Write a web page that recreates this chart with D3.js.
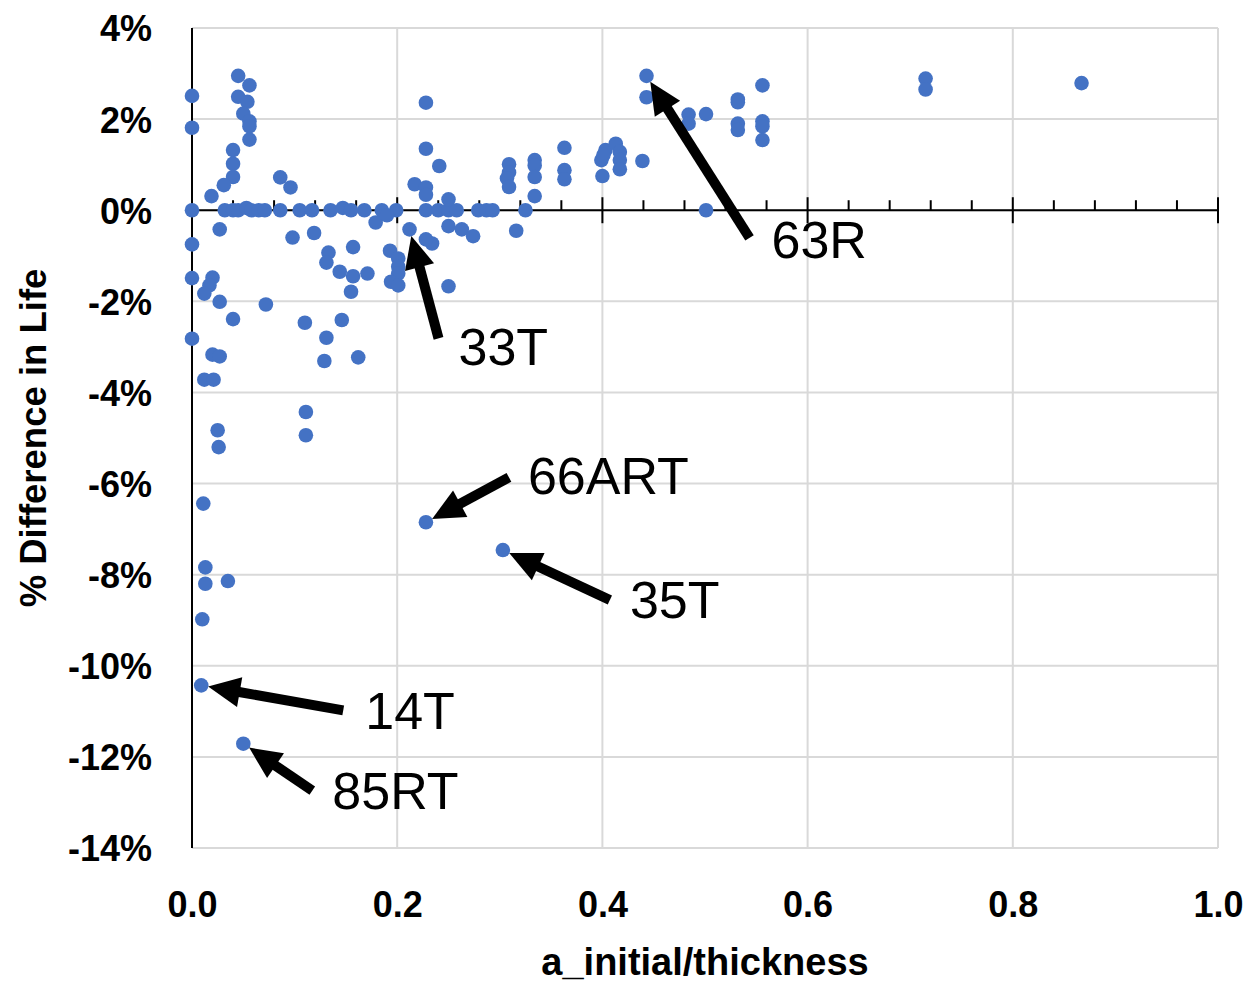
<!DOCTYPE html>
<html>
<head>
<meta charset="utf-8">
<script src="https://cdn.jsdelivr.net/npm/d3@7"></script>
<style>
    body { margin: 0; background: #fff; }
    svg { display: block; font-family: "Liberation Sans", Arial, sans-serif; }
</style>
</head>
<body>
<div id="chart"></div>
<script>
// a_initial/thickness for each specimen
const ratio = [
    0.000, 0.000, 0.000, 0.000, 0.000, 0.000,
    0.045, 0.056, 0.045, 0.054, 0.050, 0.056, 0.056, 0.056, 0.040, 0.040, 0.040, 0.031, 0.019, 0.086, 0.096,
    0.032, 0.040, 0.045, 0.053, 0.058, 0.065, 0.071, 0.086, 0.105, 0.117, 0.135, 0.147, 0.155, 0.168, 0.185,
    0.199, 0.228, 0.240, 0.250, 0.258, 0.279, 0.287, 0.293, 0.325, 0.501,
    0.027, 0.098, 0.119, 0.020, 0.017, 0.012, 0.027, 0.072, 0.040, 0.110, 0.020, 0.027, 0.012, 0.021,
    0.228, 0.228, 0.241, 0.217, 0.228, 0.228, 0.179, 0.190, 0.212, 0.250, 0.250, 0.263, 0.274,
    0.133, 0.157, 0.131, 0.144, 0.157, 0.171, 0.155, 0.193, 0.201, 0.201, 0.201, 0.194, 0.201, 0.250,
    0.234, 0.228, 0.146, 0.131, 0.129, 0.162, 0.111, 0.111, 0.025, 0.026, 0.011,
    0.013, 0.013, 0.035, 0.010, 0.009, 0.050, 0.228, 0.303,
    0.443, 0.443, 0.363, 0.363, 0.363, 0.334, 0.334, 0.334, 0.334, 0.309, 0.309, 0.307, 0.309,
    0.403, 0.413, 0.417, 0.399, 0.401, 0.417, 0.417, 0.400, 0.439,
    0.484, 0.484, 0.501, 0.532, 0.532, 0.532, 0.532, 0.556, 0.556, 0.556, 0.556,
    0.715, 0.715, 0.867, 0.316
];

// % difference in life for each specimen
const lifeDiff = [
    2.51, 1.81, 0.00, -0.75, -1.49, -2.82,
    2.95, 2.74, 2.49, 2.38, 2.12, 1.95, 1.84, 1.55, 1.32, 1.02, 0.73, 0.55, 0.31, 0.72, 0.50,
    0.00, 0.00, 0.00, 0.05, 0.00, 0.00, 0.00, 0.00, 0.00, 0.00, 0.00, 0.05, 0.00, 0.00, 0.00,
    0.00, 0.00, 0.00, 0.00, 0.00, 0.00, 0.00, 0.00, 0.00, 0.00,
    -0.42, -0.60, -0.50, -1.48, -1.65, -1.83, -2.01, -2.07, -2.39, -2.47, -3.17, -3.21, -3.72, -3.72,
    2.36, 1.35, 0.97, 0.57, 0.50, 0.34, -0.27, -0.11, -0.42, 0.24, -0.35, -0.42, -0.57,
    -0.93, -0.81, -1.15, -1.35, -1.45, -1.39, -1.79, -0.89, -1.06, -1.24, -1.39, -1.57, -1.65, -1.67,
    -0.73, -0.64, -2.41, -2.80, -3.31, -3.23, -4.43, -4.94, -4.83, -5.20, -6.44,
    -7.84, -8.20, -8.14, -8.98, -10.43, -11.71, -6.85, -7.46,
    2.95, 2.48, 1.37, 0.88, 0.68, 1.10, 0.98, 0.73, 0.31, 1.01, 0.83, 0.70, 0.51,
    1.32, 1.46, 1.28, 1.10, 1.21, 1.10, 0.90, 0.75, 1.08,
    2.10, 1.90, 2.11, 2.43, 2.37, 1.90, 1.76, 2.74, 1.95, 1.84, 1.54,
    2.89, 2.65, 2.79, -0.45
];

const xTicks = [0, 0.2, 0.4, 0.6, 0.8, 1.0];
const xMinorTicks = d3.range(1, 25).map(i => i * 0.04).filter(v => Math.abs(v / 0.2 - Math.round(v / 0.2)) > 1e-6);
const yTicks = [4, 2, 0, -2, -4, -6, -8, -10, -12, -14];

// labelled specimens
const noteLabels = ['63R', '33T', '66ART', '35T', '14T', '85RT'];
const noteX = [0.443, 0.212, 0.228, 0.303, 0.009, 0.050];
const noteY = [2.95, -0.42, -6.85, -7.46, -10.43, -11.71];

// arrow tail offset from the point (px) and label offset from the tail (px)
const tailOffset = [[103, 162], [29, 109], [83, -45], [107, 50], [142, 25], [69, 47]];
const labelOffset = [[22, 20], [20, 27], [19, 17], [20, 18], [22, 19], [20, 18]];

const width = 1252, height = 983;
const x = d3.scaleLinear().domain([0, 1]).range([192, 1218]);
const y = d3.scaleLinear().domain([-14, 4]).range([848, 28]);

const svg = d3.select('#chart').append('svg')
    .attr('width', width)
    .attr('height', height);

// gridlines
svg.append('g')
    .attr('class', 'grid-y')
    .selectAll('line')
    .data(yTicks)
    .enter()
    .append('line')
    .attr('x1', x(0))
    .attr('x2', x(1))
    .attr('y1', d => y(d))
    .attr('y2', d => y(d))
    .attr('stroke', '#d9d9d9')
    .attr('stroke-width', 2);

svg.append('g')
    .attr('class', 'grid-x')
    .selectAll('line')
    .data(xTicks.filter(d => d > 0))
    .enter()
    .append('line')
    .attr('x1', d => x(d))
    .attr('x2', d => x(d))
    .attr('y1', y(4))
    .attr('y2', y(-14))
    .attr('stroke', '#d9d9d9')
    .attr('stroke-width', 2);

// y axis line (no ticks)
svg.append('line')
    .attr('x1', x(0)).attr('x2', x(0))
    .attr('y1', y(4)).attr('y2', y(-14))
    .attr('stroke', '#000')
    .attr('stroke-width', 2);

// x axis crossing at 0%
const xAxisG = svg.append('g')
    .attr('class', 'x-axis')
    .attr('transform', `translate(0,${y(0)})`);

xAxisG.append('line')
    .attr('x1', x(0)).attr('x2', x(1))
    .attr('stroke', '#000')
    .attr('stroke-width', 2);

xAxisG.selectAll('.major')
    .data(xTicks.filter(d => d > 0))
    .enter()
    .append('line')
    .attr('class', 'major')
    .attr('x1', d => x(d)).attr('x2', d => x(d))
    .attr('y1', -13).attr('y2', 13)
    .attr('stroke', '#000')
    .attr('stroke-width', 2);

xAxisG.selectAll('.minor')
    .data(xMinorTicks)
    .enter()
    .append('line')
    .attr('class', 'minor')
    .attr('x1', d => x(d)).attr('x2', d => x(d))
    .attr('y1', -10).attr('y2', 0)
    .attr('stroke', '#000')
    .attr('stroke-width', 2);

// tick labels at the low end
const xLabels = d3.axisBottom(x)
    .tickValues(xTicks)
    .tickSize(0)
    .tickPadding(0)
    .tickFormat(d3.format('.1f'));

svg.append('g')
    .attr('transform', `translate(0,${y(-14)})`)
    .call(xLabels)
    .call(g => g.select('.domain').remove())
    .selectAll('text')
    .attr('y', 69)
    .attr('dy', 0)
    .attr('font-size', 36)
    .attr('font-weight', 'bold')
    .attr('font-family', '"Liberation Sans", Arial, sans-serif')
    .attr('fill', '#000');

const yLabels = d3.axisLeft(y)
    .tickValues(yTicks)
    .tickSize(0)
    .tickPadding(0)
    .tickFormat(d => d + '%');

svg.append('g')
    .attr('transform', `translate(152,0)`)
    .call(yLabels)
    .call(g => g.select('.domain').remove())
    .selectAll('text')
    .attr('x', 0)
    .attr('dy', '0.36em')
    .attr('font-size', 36)
    .attr('font-weight', 'bold')
    .attr('font-family', '"Liberation Sans", Arial, sans-serif')
    .attr('fill', '#000');

// axis titles
svg.append('text')
    .attr('x', (x(0) + x(1)) / 2)
    .attr('y', 975)
    .attr('text-anchor', 'middle')
    .attr('font-size', 38)
    .attr('font-weight', 'bold')
    .text('a_initial/thickness');

svg.append('text')
    .attr('transform', `translate(46,${(y(4) + y(-14)) / 2}) rotate(-90)`)
    .attr('text-anchor', 'middle')
    .attr('font-size', 36.5)
    .attr('font-weight', 'bold')
    .text('% Difference in Life');

// points
svg.append('g')
    .attr('class', 'points')
    .selectAll('circle')
    .data(ratio.map((r, i) => ({ r, v: lifeDiff[i] })))
    .enter()
    .append('circle')
    .attr('cx', d => x(d.r))
    .attr('cy', d => y(d.v))
    .attr('r', 7.3)
    .attr('fill', '#4472c4');

// annotation arrows
const notes = noteLabels.map((label, i) => {
    const px = x(noteX[i]), py = y(noteY[i]);
    const tx = px + tailOffset[i][0], ty = py + tailOffset[i][1];
    return { label, px, py, tx, ty, lx: tx + labelOffset[i][0], ly: ty + labelOffset[i][1] };
});

const noteG = svg.append('g').attr('class', 'notes');

notes.forEach(n => {
    const dx = n.px - n.tx, dy = n.py - n.ty;
    const len = Math.sqrt(dx * dx + dy * dy);
    const ux = dx / len, uy = dy / len;
    const gap = 7, headLen = 32, headHalf = 15;
    const tipX = n.px - ux * gap, tipY = n.py - uy * gap;
    const baseX = tipX - ux * headLen, baseY = tipY - uy * headLen;

    noteG.append('line')
        .attr('x1', n.tx).attr('y1', n.ty)
        .attr('x2', baseX + ux * 2).attr('y2', baseY + uy * 2)
        .attr('stroke', '#000')
        .attr('stroke-width', 10);

    noteG.append('polygon')
        .attr('points', [
            [tipX, tipY],
            [baseX - uy * headHalf, baseY + ux * headHalf],
            [baseX + uy * headHalf, baseY - ux * headHalf]
        ].map(p => p.join(',')).join(' '))
        .attr('fill', '#000');

    noteG.append('text')
        .attr('x', n.lx)
        .attr('y', n.ly)
        .attr('font-size', 52)
        .attr('fill', '#000')
        .text(n.label);
});
</script>
</body>
</html>
